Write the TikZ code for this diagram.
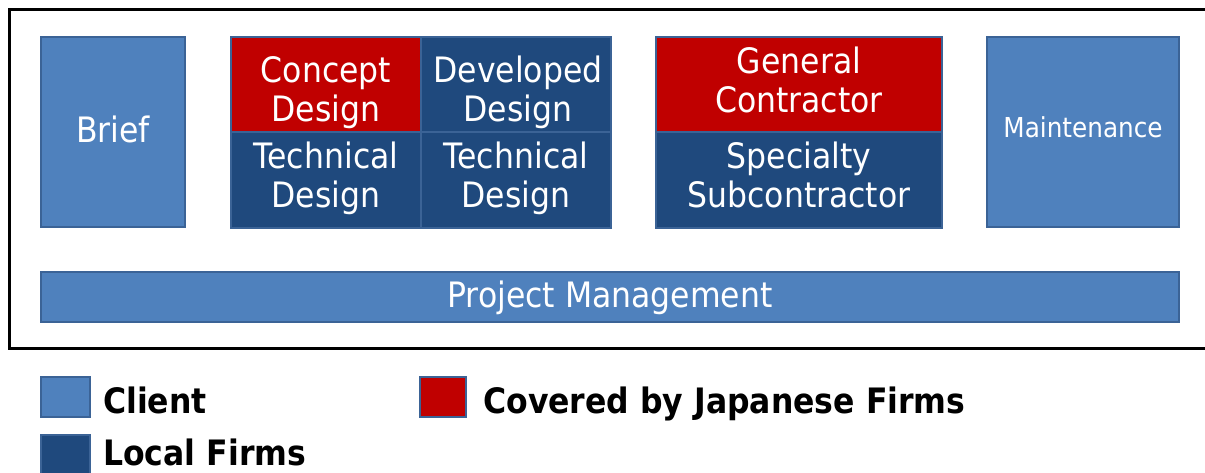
\documentclass[tikz,border=0pt]{standalone}
\usepackage{fontspec}
\newfontfamily\boxfont[FakeStretch=0.9]{DejaVu Sans}
\newfontfamily\legfont[FakeStretch=0.9]{DejaVu Sans Bold}
\definecolor{lightblue}{HTML}{4F81BD}
\definecolor{darkblue}{HTML}{1F497D}
\definecolor{jpred}{HTML}{C00000}
\definecolor{edgeblue}{HTML}{3B6396}
\newcommand{\twolines}[2]{\begin{tabular}[t]{@{}c@{}}#1\\#2\end{tabular}}
\tikzset{
  cell/.style={draw=edgeblue, line width=1.5pt, inner sep=0pt},
  client/.style={cell, fill=lightblue},
  localf/.style={cell, fill=darkblue},
  japan/.style={cell, fill=jpred},
  boxtext/.style={anchor=base, inner sep=0pt, text=white,
    font=\boxfont\fontsize{26.25pt}{29.6pt}\selectfont},
  smalltext/.style={boxtext, font=\boxfont\fontsize{20.6pt}{24pt}\selectfont},
  legbox/.style={draw=edgeblue, line width=1.5pt, inner sep=0pt},
  legtext/.style={anchor=base west, inner sep=0pt, font=\legfont\fontsize{26.25pt}{30pt}\selectfont},
  frame/.style={draw=black, line width=2.25pt}
}
\begin{document}
\begin{tikzpicture}[x=0.75pt, y=-0.75pt]
\useasboundingbox (0,0) rectangle (1205,472);
\fill[white] (0,0) rectangle (1205,472);
\draw[frame] (9,9) rectangle (1210,348);
% client boxes
\node[client, minimum width=108pt, minimum height=142.5pt] (brief) at (113,132) {};
\node[boxtext] (brieft) at (113,142) {Brief};
\node[client, minimum width=144pt, minimum height=142.5pt] (maint) at (1083,132) {};
\node[smalltext] (maintt) at (1083,137) {Maintenance};
\node[client, minimum width=853.5pt, minimum height=37.5pt] (pm) at (610,297) {};
\node[boxtext] (pmt) at (610,307) {Project Management};
% design block
\node[japan, minimum width=142.5pt, minimum height=71.25pt] (concept) at (326,84.5) {};
\node[localf, minimum width=142.5pt, minimum height=71.25pt] (developed) at (516,84.5) {};
\node[localf, minimum width=142.5pt, minimum height=72pt] (tech1) at (326,180) {};
\node[localf, minimum width=142.5pt, minimum height=72pt] (tech2) at (516,180) {};
\node[boxtext] (conceptt) at (326,82) {\twolines{Concept}{Design}};
\node[boxtext] (developedt) at (518,82) {\twolines{Developed}{Design}};
\node[boxtext] (tech1t) at (326,168) {\twolines{Technical}{Design}};
\node[boxtext] (tech2t) at (516,168) {\twolines{Technical}{Design}};
% contractor block
\node[japan, minimum width=214.5pt, minimum height=71.25pt] (general) at (799,84.5) {};
\node[localf, minimum width=214.5pt, minimum height=72pt] (special) at (799,180) {};
\node[boxtext] (generalt) at (799,73) {\twolines{General}{Contractor}};
\node[boxtext] (specialt) at (799,168) {\twolines{Specialty}{Subcontractor}};
% legend
\node[legbox, fill=lightblue, minimum width=36.75pt, minimum height=30pt] (lgclient) at (65.5,397) {};
\node[legbox, fill=darkblue, minimum width=36.75pt, minimum height=30pt] (lglocal) at (65.5,455) {};
\node[legbox, fill=jpred, minimum width=34.5pt, minimum height=30pt] (lgjapan) at (443,397) {};
\node[legtext] (tclient) at (103,413) {Client};
\node[legtext] (tlocal) at (103,465) {Local Firms};
\node[legtext] (tjapan) at (483,413) {Covered by Japanese Firms};
\end{tikzpicture}
\end{document}
